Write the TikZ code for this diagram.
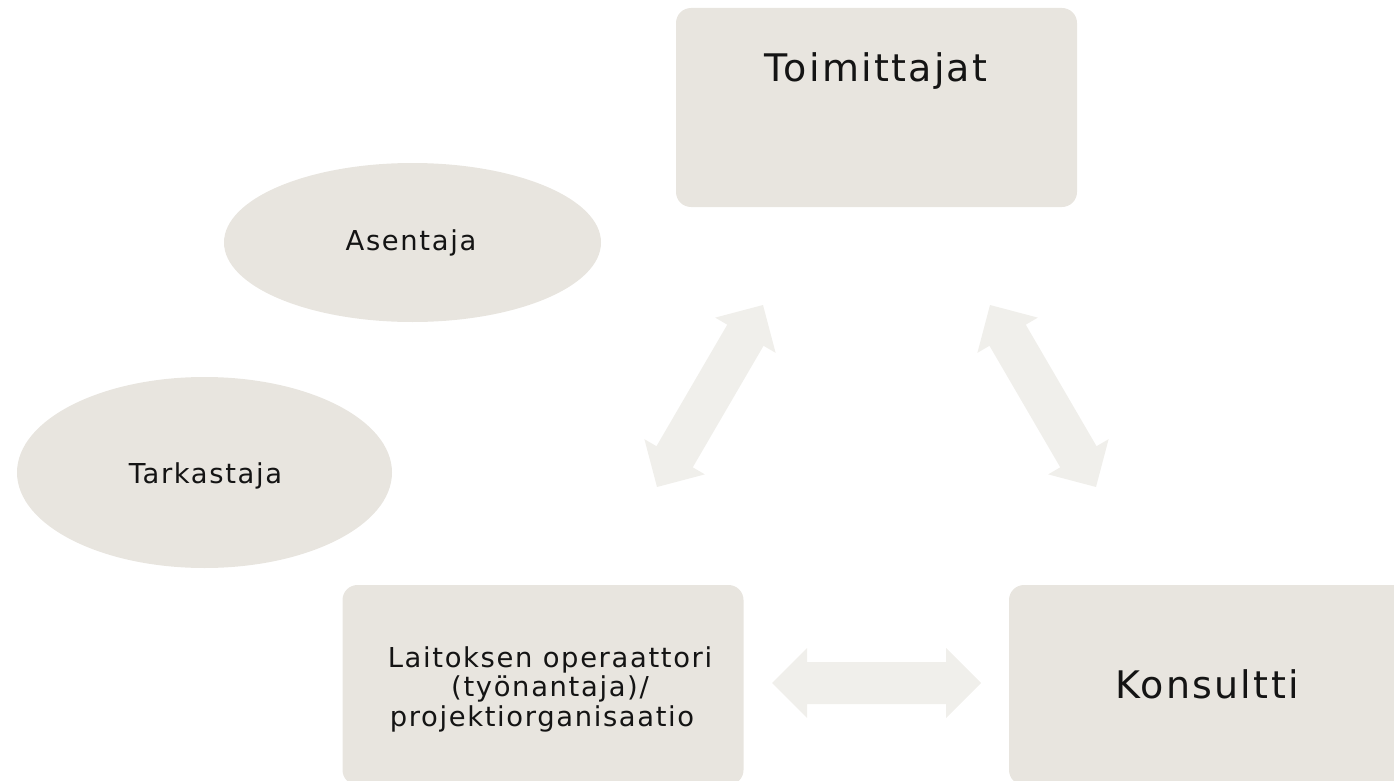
\documentclass[tikz,border=0pt]{standalone}
\usepackage{fontspec}
\setmainfont{DejaVu Sans}[LetterSpace=6]
\usetikzlibrary{calc,shapes.geometric}
\definecolor{boxfill}{RGB}{232,229,223}
\definecolor{arrowfill}{RGB}{240,239,235}
\definecolor{txt}{RGB}{20,20,20}
\newcommand{\dblblock}[2]{%
  \path ($(#1)!35pt!(#2)$) coordinate (#1h);
  \path ($(#2)!35pt!(#1)$) coordinate (#2h);
  \fill[arrowfill] (#1) -- ($(#1h)!35pt!90:(#2)$) -- ($(#1h)!21pt!90:(#2)$)
    -- ($(#2h)!21pt!-90:(#1)$) -- ($(#2h)!35pt!-90:(#1)$) -- (#2)
    -- ($(#2h)!35pt!90:(#1)$) -- ($(#2h)!21pt!90:(#1)$)
    -- ($(#1h)!21pt!-90:(#2)$) -- ($(#1h)!35pt!-90:(#2)$) -- cycle;}
\tikzset{
  boxnode/.style={rectangle, rounded corners=15pt, fill=boxfill, draw=none, minimum width=401pt, inner sep=0pt},
  ovalnode/.style={ellipse, fill=boxfill, draw=none, inner sep=0pt},
  bigtext/.style={text=txt, font=\fontsize{38}{40}\selectfont, inner sep=0pt},
  smalltext/.style={text=txt, font=\fontsize{27.4}{29.5}\selectfont, inner sep=0pt},
}
\begin{document}
\begin{tikzpicture}[x=1pt,y=-1pt]
\useasboundingbox (0,0) rectangle (1394,781);
% boxes
\node[boxnode, minimum height=199pt] (toim) at (876.5,107.5) {};
\node[bigtext, anchor=base] (toimt) at (876,82) {Toimittajat};
\node[ovalnode, minimum width=377pt, minimum height=159pt] (asen) at (412.5,242.5) {};
\node[smalltext, anchor=base] (asent) at (411,250) {Asentaja};
\node[ovalnode, minimum width=375pt, minimum height=191pt] (tark) at (204.5,472.5) {};
\node[smalltext, anchor=base] (tarkt) at (205.5,483) {Tarkastaja};
\node[boxnode, minimum height=200pt] (lait) at (543,685) {};
\node[smalltext, align=center] (laitt) at (542,689) {\hspace*{16pt}Laitoksen operaattori\\\hspace*{16pt}(työnantaja)/\\projektiorganisaatio};
\node[boxnode, minimum height=200pt] (kons) at (1209.5,685) {};
\node[bigtext, anchor=base] (konst) at (1207,698) {Konsultti};
% block arrows
\coordinate (la1) at (657,487);
\coordinate (la2) at (763,305);
\coordinate (ra1) at (990,305);
\coordinate (ra2) at (1096,487);
\coordinate (ha1) at (772,683);
\coordinate (ha2) at (981,683);
\dblblock{la1}{la2}
\dblblock{ra1}{ra2}
\dblblock{ha1}{ha2}
\end{tikzpicture}
\end{document}
